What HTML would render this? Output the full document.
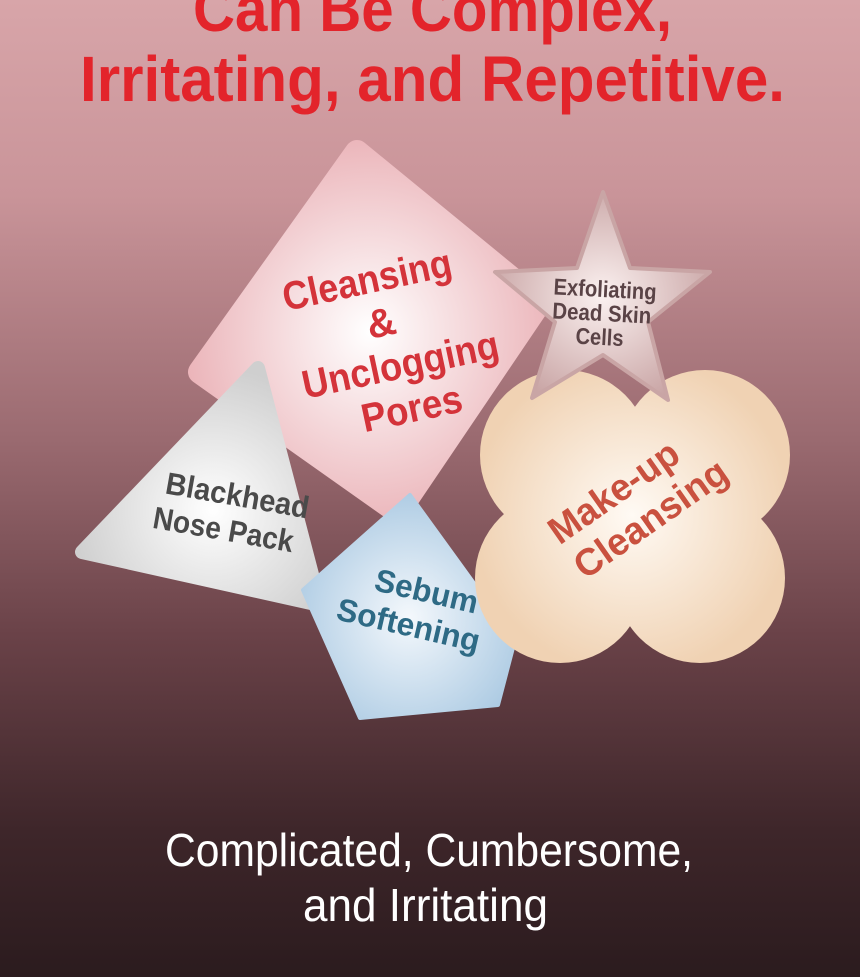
<!DOCTYPE html>
<html><head><meta charset="utf-8"><style>
body{margin:0;width:860px;height:977px;overflow:hidden;background:linear-gradient(#d8a5a9 0%,#c99499 20%,#9a6a70 45%,#6a4248 65%,#3e262a 85%,#2b1b1e 100%);font-family:"Liberation Sans",sans-serif;}
svg{position:absolute;left:0;top:0}
</style></head><body>
<svg width="860" height="977" viewBox="0 0 860 977">
<defs>
<radialGradient id="gp" cx="0.5" cy="0.5" r="0.55"><stop offset="0" stop-color="#fff"/><stop offset="1" stop-color="#ebb4b9"/></radialGradient>
<radialGradient id="gg" cx="0.55" cy="0.6" r="0.6"><stop offset="0" stop-color="#fff"/><stop offset="1" stop-color="#cfcfcf"/></radialGradient>
<radialGradient id="gb" cx="0.5" cy="0.55" r="0.6"><stop offset="0" stop-color="#f4f8fc"/><stop offset="1" stop-color="#aac9e2"/></radialGradient>
<radialGradient id="gc" gradientUnits="userSpaceOnUse" cx="632" cy="515" r="160"><stop offset="0" stop-color="#fffaf4"/><stop offset="1" stop-color="#f0d2b3"/></radialGradient>
<radialGradient id="gs" cx="0.5" cy="0.5" r="0.55"><stop offset="0" stop-color="#fbf1f0"/><stop offset="1" stop-color="#c9a5a5"/></radialGradient>
</defs>
<text x="193" y="31" font-size="64" font-weight="bold" fill="#e3242b" textLength="479" lengthAdjust="spacingAndGlyphs">Can Be Complex,</text>
<text x="80" y="101" font-size="64" font-weight="bold" fill="#e3242b" textLength="705" lengthAdjust="spacingAndGlyphs">Irritating, and Repetitive.</text>

<polygon points="357,152 540,302 398,512 200,372" fill="url(#gp)" stroke="url(#gp)" stroke-width="24" stroke-linejoin="round"/>
<polygon points="258,368 320,605 82,552" fill="url(#gg)" stroke="url(#gg)" stroke-width="14" stroke-linejoin="round"/>
<polygon points="410,495 515,640 498,705 360,718 303,590" fill="url(#gb)" stroke="url(#gb)" stroke-width="4" stroke-linejoin="round"/>
<g fill="url(#gc)">
<circle cx="565" cy="455" r="85"/><circle cx="705" cy="455" r="85"/>
<circle cx="560" cy="578" r="85"/><circle cx="700" cy="578" r="85"/>
<rect x="560" y="455" width="140" height="123"/>
</g>
<polygon points="603,192 630,268 710,272 648,322 668,400 603,355 532,398 555,322 495,272 577,268" fill="url(#gs)" stroke="#c9a5a5" stroke-width="4" stroke-linejoin="round"/>

<g font-weight="bold" fill="#d4333a" font-size="40" text-anchor="middle" transform="rotate(-12 390 340)">
<text x="380" y="290" textLength="172" lengthAdjust="spacingAndGlyphs">Cleansing</text><text x="385" y="335">&amp;</text><text x="395" y="380" textLength="200" lengthAdjust="spacingAndGlyphs">Unclogging</text><text x="397" y="425" textLength="102" lengthAdjust="spacingAndGlyphs">Pores</text></g>
<g font-weight="bold" fill="#5a4346" font-size="23" text-anchor="middle" transform="rotate(3 603 310)">
<text x="604" y="297" textLength="103" lengthAdjust="spacingAndGlyphs">Exfoliating</text><text x="602" y="321" textLength="99" lengthAdjust="spacingAndGlyphs">Dead Skin</text><text x="601" y="345" textLength="48" lengthAdjust="spacingAndGlyphs">Cells</text></g>
<g font-weight="bold" fill="#4a4a4a" font-size="31" text-anchor="middle" transform="rotate(10 230 515)">
<text x="234" y="505" textLength="145" lengthAdjust="spacingAndGlyphs">Blackhead</text><text x="226" y="541" textLength="142" lengthAdjust="spacingAndGlyphs">Nose Pack</text></g>
<g font-weight="bold" fill="#2e6a85" font-size="32" text-anchor="middle" transform="rotate(13 415 610)">
<text x="422" y="600" textLength="105" lengthAdjust="spacingAndGlyphs">Sebum</text><text x="412" y="637" textLength="146" lengthAdjust="spacingAndGlyphs">Softening</text></g>
<g font-weight="bold" fill="#c9513f" font-size="38" text-anchor="middle" transform="rotate(-35 635 505)">
<text x="625" y="495" textLength="150" lengthAdjust="spacingAndGlyphs">Make-up</text><text x="640" y="538" textLength="178" lengthAdjust="spacingAndGlyphs">Cleansing</text></g>

<text x="165" y="866" font-size="46" fill="#fff" textLength="528" lengthAdjust="spacingAndGlyphs">Complicated, Cumbersome,</text>
<text x="303" y="921" font-size="46" fill="#fff" textLength="245" lengthAdjust="spacingAndGlyphs">and Irritating</text>
</svg>
</body></html>
